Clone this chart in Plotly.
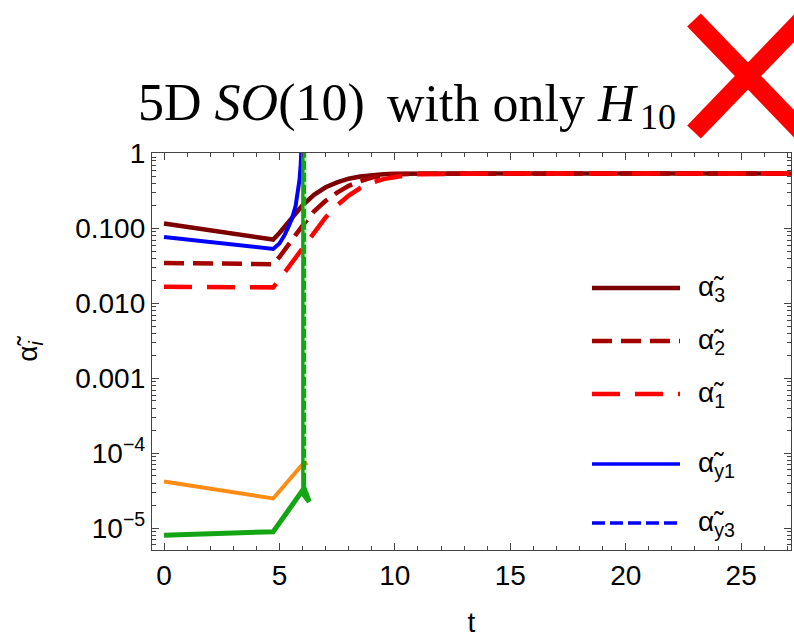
import plotly.graph_objects as go

# ---------------- data ----------------
t_a3 = [0, 4.73, 5.0, 5.5, 6.0, 6.5, 7.0, 7.5, 8.0, 8.5, 9.0, 9.5, 10, 11, 13, 16, 20, 24, 27.2]
a3 = [0.117, 0.0713, 0.0871, 0.132, 0.204, 0.282, 0.355, 0.412, 0.462, 0.495, 0.519, 0.531,
      0.537, 0.541, 0.542, 0.542, 0.542, 0.542, 0.542]

t_a2 = [0, 4.73, 5.0, 5.5, 6.0, 6.5, 7.0, 7.5, 8.0, 8.5, 9.0, 9.5, 10, 11, 13, 16, 20, 24, 27.2]
a2 = [0.0348, 0.0334, 0.0417, 0.0692, 0.1096, 0.170, 0.234, 0.302, 0.372, 0.427, 0.479, 0.507,
      0.525, 0.537, 0.541, 0.542, 0.542, 0.542, 0.542]

t_a1 = [0, 4.73, 5.0, 5.5, 6.0, 6.5, 7.0, 7.5, 8.0, 8.5, 9.0, 9.5, 10, 10.5, 11, 12, 14, 17, 21, 24, 27.2]
a1 = [0.0167, 0.0164, 0.0209, 0.0339, 0.0537, 0.0891, 0.141, 0.204, 0.275, 0.347, 0.407, 0.457,
      0.490, 0.513, 0.531, 0.540, 0.542, 0.542, 0.542, 0.542, 0.542]

t_y1 = [0, 4.73, 5.0, 5.2, 5.4, 5.55, 5.7, 5.8, 5.87, 5.92, 5.95, 5.98]
ay1 = [0.0773, 0.0535, 0.0631, 0.0794, 0.107, 0.138, 0.200, 0.302, 0.447, 0.708, 1.0, 1.78]

t_or = [0, 4.73, 5.96, 6.22]
a_or = [4.2e-5, 2.5e-5, 6.9e-5, 7.5e-5]

t_gr = [0, 4.73, 5.96, 6.29, 6.05, 6.05]
a_gr = [8.1e-6, 9.0e-6, 3.07e-5, 2.26e-5, 3.55e-5, 2.0]

t_dot = [6.12, 6.12]
a_dot = [5.5e-5, 1.5]

x_ticks = [0, 5, 10, 15, 20, 25]
y_ticks = [1e-5, 1e-4, 1e-3, 1e-2, 1e-1, 1]
y_ticktext = ["10<sup>\u22125</sup>", "10<sup>\u22124</sup>", "0.001", "0.010", "0.100", "1"]

legend_labels = ["\u03b1\u0303<sub>3</sub>", "\u03b1\u0303<sub>2</sub>", "\u03b1\u0303<sub>1</sub>",
                 "\u03b1\u0303<sub>y1</sub>", "\u03b1\u0303<sub>y3</sub>"]

# ---------------- styles ----------------
C3, C2, C1 = "rgb(125,0,0)", "rgb(165,0,0)", "rgb(255,0,0)"
CB, CO, CG = "rgb(0,0,255)", "rgb(255,140,20)", "rgb(20,165,20)"
D2, D1, DY3 = "20px,9px", "28px,15px", "13px,5px"

W, H = 794, 640
ML, MR, MT, MB = 152, 3, 153, 90
PW, PH = W - ML - MR, H - MT - MB


def px(x):
    return (x - ML) / PW


def py(y):
    return (H - MB - y) / PH


fig = go.Figure()
fig.add_trace(go.Scatter(x=t_a3, y=a3, mode="lines", line=dict(color=C3, width=4.5)))
fig.add_trace(go.Scatter(x=t_a2, y=a2, mode="lines", line=dict(color=C2, width=4.5, dash=D2)))
fig.add_trace(go.Scatter(x=t_a1, y=a1, mode="lines", line=dict(color=C1, width=4.5, dash=D1)))
fig.add_trace(go.Scatter(x=t_y1, y=ay1, mode="lines", line=dict(color=CB, width=4)))
fig.add_trace(go.Scatter(x=t_or, y=a_or, mode="lines", line=dict(color=CO, width=4)))
fig.add_trace(go.Scatter(x=t_gr, y=a_gr, mode="lines", line=dict(color=CG, width=5)))
fig.add_trace(go.Scatter(x=t_dot, y=a_dot, mode="lines",
                         line=dict(color="rgba(235,250,235,0.9)", width=1.5, dash="3px,9px")))

axis_common = dict(showline=True, linecolor="#444", linewidth=1.3, mirror="ticks",
                   ticks="inside", tickcolor="#444", tickwidth=1.3, ticklen=7,
                   showgrid=False, zeroline=False,
                   tickfont=dict(family="Liberation Sans", size=28, color="black"))

fig.update_xaxes(range=[-0.52, 27.16], tickvals=x_ticks,
                 minor=dict(ticks="inside", ticklen=4, dtick=1, tick0=0, tickcolor="#444",
                            tickwidth=1.1, showgrid=False),
                 title=dict(text="t", font=dict(family="Liberation Sans", size=28, color="black"),
                            standoff=22),
                 **axis_common)

minor_y = [m * 10 ** e for e in range(-6, 1) for m in range(2, 10)]
fig.update_yaxes(type="log", range=[-5.29, 0.008], tickvals=y_ticks, ticktext=y_ticktext,
                 minor=dict(ticks="inside", ticklen=4, tickvals=minor_y, tickcolor="#444",
                            tickwidth=1.1, showgrid=False),
                 title=dict(text="\u03b1\u0303<sub><i>i</i></sub>",
                            font=dict(family="Liberation Sans", size=28, color="black"),
                            standoff=29),
                 **axis_common)

shapes = []
annotations = []

# legend (drawn manually to reproduce long sample lines)
leg_y = [288, 341, 394, 464, 523]
leg_styles = [(C3, None, 4.5), (C2, D2, 4.5), (C1, D1, 4.5), (CB, None, 3.5), (CB, DY3, 3.5)]
for yy, (col, dash, wd), lab in zip(leg_y, leg_styles, legend_labels):
    line = dict(color=col, width=wd)
    if dash:
        line["dash"] = dash
    shapes.append(dict(type="line", xref="paper", yref="paper", x0=px(592), x1=px(680),
                       y0=py(yy), y1=py(yy), line=line))
    annotations.append(dict(xref="paper", yref="paper", x=px(696), y=py(yy), text=lab,
                            showarrow=False, xanchor="left", yanchor="middle",
                            font=dict(family="Liberation Sans", size=28, color="black")))

# title pieces (serif, equation-like)
title_font = dict(family="Liberation Serif", size=52, color="black")
title_parts = [("5D <i>SO</i>(10)", 251), ("with only <i>H</i>", 512)]
for txt, cx in title_parts:
    annotations.append(dict(xref="paper", yref="paper", x=px(cx), y=py(103), text=txt,
                            showarrow=False, xanchor="center", yanchor="middle", font=title_font))
annotations.append(dict(xref="paper", yref="paper", x=px(658), y=py(117), text="10",
                        showarrow=False, xanchor="center", yanchor="middle",
                        font=dict(family="Liberation Serif", size=36, color="black")))

# red cross
for (x0, y0, x1, y1) in [(694, 20, 802, 132), (802, 20, 694, 132)]:
    shapes.append(dict(type="line", xref="paper", yref="paper", x0=px(x0), y0=py(y0),
                       x1=px(x1), y1=py(y1), line=dict(color="rgb(255,0,0)", width=19)))

fig.update_layout(width=W, height=H, margin=dict(l=ML, r=MR, t=MT, b=MB, autoexpand=False),
                  plot_bgcolor="white", paper_bgcolor="white", showlegend=False,
                  shapes=shapes, annotations=annotations)

fig.write_html("out.html")
